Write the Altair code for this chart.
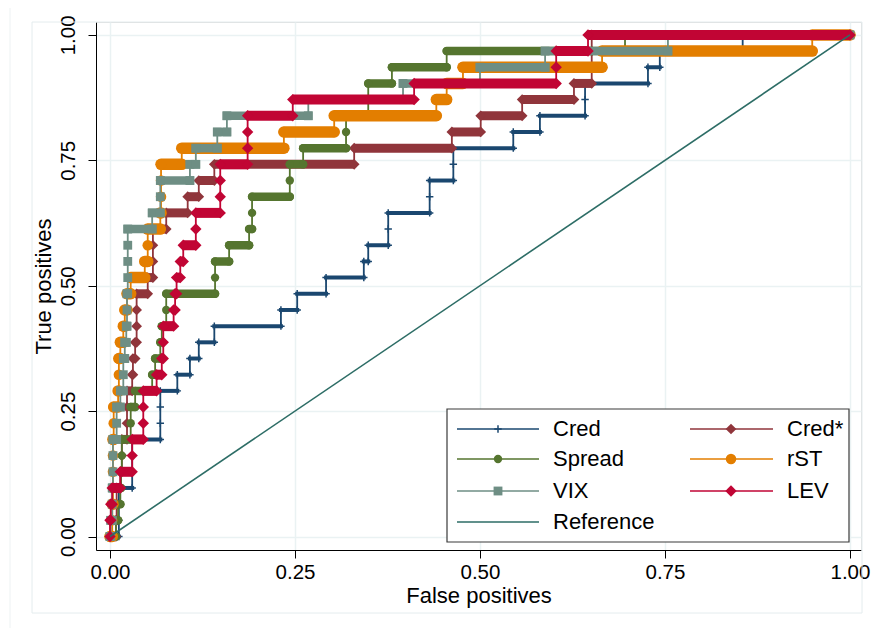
import altair as alt
import pandas as pd

FONT = "Liberation Sans"
N_POS = 31  # number of positive cases (true-positive steps of 1/31)

names = ["Cred", "Cred*", "Spread", "rST", "VIX", "LEV"]
colors = ["#1a476f", "#90353b", "#55752f", "#e37e00", "#6e8e84", "#c10534"]

# False-positive rate at which each curve reaches k true positives (k = 0..31)
cred_fp = [0, .012, .012, .012, .030, .030, .030, .068, .068, .068, .091, .108, .120, .141, .231, .253,
           .292, .343, .349, .376, .376, .432, .432, .464, .464, .545, .581, .642, .642, .727, .743, .855]
credstar_fp = [0, .008, .009, .009, .014, .016, .016, .023, .023, .023, .030, .031, .034, .036, .036, .036,
               .051, .058, .058, .058, .076, .105, .120, .141, .330, .462, .501, .557, .627, .651, .651, .651]
spread_fp = [0, .008, .011, .014, .015, .016, .016, .028, .028, .034, .057, .061, .068, .070, .076, .076,
             .142, .142, .161, .188, .192, .192, .243, .243, .261, .319, .319, .349, .349, .381, .455, .696]
rst_fp = [0, .003, .003, .004, .004, .004, .004, .005, .005, .011, .012, .012, .014, .018, .020, .023,
          .028, .047, .051, .051, .068, .069, .069, .069, .097, .235, .303, .441, .455, .477, .665, .949]
vix_fp = [0, .001, .003, .003, .004, .004, .004, .009, .009, .014, .018, .018, .020, .022, .023, .023,
          .024, .024, .024, .024, .057, .068, .068, .108, .116, .145, .158, .268, .396, .500, .588, .754]
lev_fp = [0, 0, .001, .003, .014, .030, .030, .045, .045, .045, .063, .070, .072, .072, .086, .088,
          .090, .095, .099, .116, .116, .149, .149, .149, .186, .186, .186, .247, .411, .603, .603, .646]
fps = [cred_fp, credstar_fp, spread_fp, rst_fp, vix_fp, lev_fp]

ref_fp = [0, 1]
ref_tp = [0, 1]

ticks = [0, 0.25, 0.5, 0.75, 1.0]

PLUS = "M-1,-0.2L1,-0.2L1,0.2L-1,0.2Z M-0.2,-1L0.2,-1L0.2,1L-0.2,1Z"
shapes = [PLUS, "diamond", "circle", "circle", "square", "diamond"]
sizes = [55, 115, 70, 110, 78, 130]
bar_w = [4, 9, 8.5, 11.5, 8.5, 10]
caps = ["square", "butt", "round", "round", "square", "butt"]

xs = alt.Scale(domain=[-0.0189, 1.0149], nice=False, zero=False)
ys = alt.Scale(domain=[-0.0269, 1.0257], nice=False, zero=False)

xaxis = alt.Axis(values=ticks, format=".2f", title="False positives", grid=True,
                 gridColor="#eaf2f3", gridWidth=1.5, domainColor="#000000", domainWidth=1,
                 tickColor="#000000", tickSize=8, tickWidth=1, labelFontSize=20.5, labelFont=FONT,
                 labelColor="#000000", labelPadding=4, labelFlush=False, labelOverlap=False,
                 titleFont=FONT, titleFontSize=22, titleFontWeight="normal", titleColor="#000000",
                 titlePadding=3)
yaxis = alt.Axis(values=ticks, format=".2f", title="True positives", grid=True,
                 gridColor="#eaf2f3", gridWidth=1.5, domainColor="#000000", domainWidth=1,
                 tickColor="#000000", tickSize=8, tickWidth=1, labelFontSize=20.5, labelFont=FONT,
                 labelColor="#000000", labelPadding=10, labelAngle=270, labelAlign="center",
                 labelBaseline="bottom", labelFlush=False, labelOverlap=False,
                 titleFont=FONT, titleFontSize=22, titleFontWeight="normal", titleColor="#000000",
                 titlePadding=3)


def X():
    return alt.X("f:Q", scale=xs, axis=xaxis)


def Y():
    return alt.Y("t:Q", scale=ys, axis=yaxis)


one = pd.DataFrame({"d": [0]})
layers = []
# faint outer frames of the graph region
layers.append(alt.Chart(one).mark_rule(color="#edf2f3", strokeWidth=1).encode(
    x=alt.value(-86), y=alt.value(-19), y2=alt.value(620)))
layers.append(alt.Chart(one).mark_rule(color="#edf2f3", strokeWidth=1).encode(
    x=alt.value(-86), x2=alt.value(780), y=alt.value(-19)))
layers.append(alt.Chart(one).mark_rect(fill="transparent", stroke="#e4ecee", strokeWidth=1).encode(
    x=alt.value(-64), x2=alt.value(766), y=alt.value(0), y2=alt.value(591)))

for name, col, fp, shp, sz, bw, cap in zip(names, colors, fps, shapes, sizes, bar_w, caps):
    ends = fp[1:] + [1.0]
    line_rows, bar_rows, pt_rows = [], [], []
    o = 0
    for k, (a, b) in enumerate(zip(fp, ends)):
        t = k / N_POS
        line_rows.append({"f": a, "t": t, "o": o}); o += 1
        pt_rows.append({"f": a, "t": t})
        if b > a:
            line_rows.append({"f": b, "t": t, "o": o}); o += 1
            bar_rows.append({"f": a, "f2": b, "t": t})
            pt_rows.append({"f": b, "t": t})
    layers.append(alt.Chart(pd.DataFrame(line_rows)).mark_line(color=col, strokeWidth=1.8).encode(
        x=X(), y=Y(), order="o:Q"))
    layers.append(alt.Chart(pd.DataFrame(bar_rows)).mark_rule(color=col, strokeWidth=bw, strokeCap=cap).encode(
        x=X(), x2="f2:Q", y=Y()))
    layers.append(alt.Chart(pd.DataFrame(pt_rows)).mark_point(shape=shp, size=sz, filled=True, color=col,
                                                                opacity=1, strokeWidth=0).encode(x=X(), y=Y()))

ref_df = pd.DataFrame({"f": ref_fp, "t": ref_tp})
layers.append(alt.Chart(ref_df).mark_line(color="#2d6d66", strokeWidth=1.6).encode(x=X(), y=Y()))

# legend (drawn manually: line + marker + label)
layers.append(alt.Chart(one).mark_rect(fill="white", stroke="#3a3a3a", strokeWidth=1.2).encode(
    x=alt.value(351), x2=alt.value(753), y=alt.value(387), y2=alt.value(520)))
col_line = [(361, 443, 402, 457), (594, 677, 635, 691)]
row_y = [407, 437, 469, 500]
legend_items = [("Cred", 0, 0, 0), ("Cred*", 1, 0, 1), ("Spread", 0, 1, 2), ("rST", 1, 1, 3),
                ("VIX", 0, 2, 4), ("LEV", 1, 2, 5), ("Reference", 0, 3, None)]
for label, c, r, idx in legend_items:
    x0, x1, xm, xt = col_line[c]
    yv = row_y[r]
    col = colors[idx] if idx is not None else "#2d6d66"
    layers.append(alt.Chart(one).mark_rule(color=col, strokeWidth=1.6).encode(
        x=alt.value(x0), x2=alt.value(x1), y=alt.value(yv)))
    if idx is not None:
        layers.append(alt.Chart(one).mark_point(shape=shapes[idx], size=sizes[idx], filled=True, color=col,
                                                opacity=1, strokeWidth=0).encode(x=alt.value(xm), y=alt.value(yv)))
    layers.append(alt.Chart(one).mark_text(text=label, font=FONT, fontSize=22, color="#000000", align="left",
                                           baseline="middle").encode(x=alt.value(xt), y=alt.value(yv)))

chart = alt.layer(*layers).properties(
    width=765, height=528,
    autosize=alt.AutoSizeParams(type="none"),
    padding={"left": 88, "top": 14, "right": 12, "bottom": 78},
    background="white",
).configure_view(stroke=None).configure(font=FONT)

chart.save("out.html", embed_options={"renderer": "svg", "actions": False})
